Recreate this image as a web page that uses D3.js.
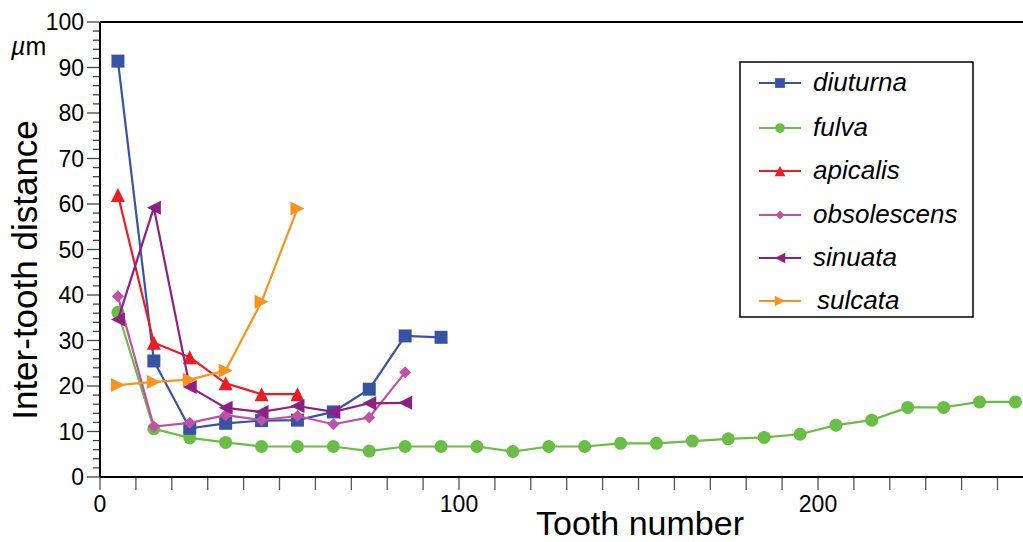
<!DOCTYPE html>
<html>
<head>
	<title>Inter-tooth distance</title>
	<script type="text/javascript" src="https://cdn.jsdelivr.net/npm/d3@7/dist/d3.min.js"></script>
	<style type="text/css">
		body { margin: 0; background: #fff; }
		svg { display: block; font-family: "Liberation Sans", Arial, Helvetica, sans-serif; }
	</style>
</head>
<body>
	<svg width=1023 height=542 class="chart"></svg>
	<script type="text/javascript">

		// tooth bins (centre of each 10-tooth group)
		toothBins = [5, 15, 25, 35, 45, 55, 65, 75, 85, 95, 105, 115, 125, 135, 145, 155, 165, 175, 185, 195, 205, 215, 225, 235, 245, 255]

		diuturna = [91.4, 25.5, 10.7, 11.8, 12.4, 12.5, 14.3, 19.3, 31.0, 30.7]
		fulva = [36.2, 10.6, 8.6, 7.6, 6.7, 6.7, 6.7, 5.7, 6.7, 6.7, 6.7, 5.6, 6.7, 6.7, 7.4, 7.4, 7.9, 8.4, 8.7, 9.4, 11.4, 12.5, 15.3, 15.3, 16.5, 16.5]
		apicalis = [62.0, 29.5, 26.3, 20.6, 18.2, 18.2]
		obsolescens = [39.7, 11.1, 11.9, 13.6, 12.5, 13.4, 11.6, 13.1, 23.0]
		sinuata = [34.6, 59.2, 19.8, 15.2, 14.3, 15.6, 14.3, 16.2, 16.3]
		sulcata = [20.2, 20.9, 21.4, 23.4, 38.5, 59.0]

		seriesNames = ['diuturna', 'fulva', 'apicalis', 'obsolescens', 'sinuata', 'sulcata']
		seriesColors = ['#3953a4', '#6abd45', '#ed1c24', '#c052a5', '#8e1f83', '#f7941d']
		seriesShapes = ['square', 'circle', 'up', 'diamond', 'left', 'right']
		seriesValues = [diuturna, fulva, apicalis, obsolescens, sinuata, sulcata]
		drawOrder = [1, 0, 2, 3, 4, 5]

		xTickLabels = [0, 100, 200]
		yTickLabels = [0, 10, 20, 30, 40, 50, 60, 70, 80, 90, 100]

		margin = {'top': 22, 'left': 100, 'bottom': 65}
		svg = d3.select('.chart')

		x = d3.scaleLinear().domain([0, 260]).range([margin.left, margin.left + 260 * 3.59])
		y = d3.scaleLinear().domain([0, 100]).range([477, margin.top])

		function markerPath(shape, s) {
			var h = s / 2
			if (shape == 'square') return 'M' + (-h) + ',' + (-h) + 'h' + s + 'v' + s + 'h' + (-s) + 'Z'
			if (shape == 'circle') return 'M' + h + ',0A' + h + ',' + h + ' 0 1,1 ' + (-h) + ',0A' + h + ',' + h + ' 0 1,1 ' + h + ',0Z'
			if (shape == 'up') return 'M0,' + (-h) + 'L' + h + ',' + h + 'L' + (-h) + ',' + h + 'Z'
			if (shape == 'left') return 'M' + (-h) + ',0L' + h + ',' + (-h) + 'L' + h + ',' + h + 'Z'
			if (shape == 'right') return 'M' + h + ',0L' + (-h) + ',' + (-h) + 'L' + (-h) + ',' + h + 'Z'
			if (shape == 'diamond') return 'M0,' + (-h) + 'L' + h + ',0L0,' + h + 'L' + (-h) + ',0Z'
		}
		markerSize = {'square': 13, 'circle': 13, 'up': 14, 'left': 14, 'right': 14, 'diamond': 12}

		// axes frame
		yMinor = d3.range(0, 101, 2)
		svg.append('g')
			.selectAll('line')
			.data(yMinor)
			.enter()
			.append('line')
			.attr('x1', function(d) { return d % 10 == 0 ? 87 : 93 })
			.attr('x2', margin.left)
			.attr('y1', function(d) { return y(d) })
			.attr('y2', function(d) { return y(d) })
			.attr('stroke', '#444')
			.attr('stroke-width', 1.3)

		xMinor = d3.range(0, 261, 10)
		svg.append('g')
			.selectAll('line')
			.data(xMinor)
			.enter()
			.append('line')
			.attr('x1', function(d) { return x(d) })
			.attr('x2', function(d) { return x(d) })
			.attr('y1', y(0))
			.attr('y2', y(0) + 13)
			.attr('stroke', '#555')
			.attr('stroke-width', 1.3)

		svg.append('line')
			.attr('x1', margin.left).attr('x2', margin.left)
			.attr('y1', y(100)).attr('y2', y(0))
			.attr('stroke', '#000').attr('stroke-width', 2)
		svg.append('line')
			.attr('x1', margin.left).attr('x2', 1023)
			.attr('y1', y(0)).attr('y2', y(0))
			.attr('stroke', '#000').attr('stroke-width', 2.2)
		svg.append('line')
			.attr('x1', margin.left).attr('x2', 1023)
			.attr('y1', y(100)).attr('y2', y(100))
			.attr('stroke', '#000').attr('stroke-width', 2)

		svg.append('g')
			.selectAll('text')
			.data(yTickLabels)
			.enter()
			.append('text')
			.attr('x', 84)
			.attr('y', function(d) { return y(d) + 8 })
			.attr('text-anchor', 'end')
			.attr('font-size', 23)
			.text(function(d) { return d })

		svg.append('g')
			.selectAll('text')
			.data(xTickLabels)
			.enter()
			.append('text')
			.attr('x', function(d) { return x(d) })
			.attr('y', 512)
			.attr('text-anchor', 'middle')
			.attr('font-size', 23)
			.text(function(d) { return d })

		unit = svg.append('text')
			.attr('x', 11)
			.attr('y', 55)
			.attr('font-size', 25)
		unit.append('tspan').attr('font-style', 'italic').text('\u00b5')
		unit.append('tspan').text('m')

		svg.append('text')
			.attr('transform', 'translate(37,270) rotate(-90)')
			.attr('text-anchor', 'middle')
			.attr('font-size', 35)
			.text('Inter-tooth distance')

		svg.append('text')
			.attr('x', 640)
			.attr('y', 535)
			.attr('text-anchor', 'middle')
			.attr('font-size', 34)
			.text('Tooth number')

		// series
		line = d3.line()
			.x(function(d) { return x(d[0]) })
			.y(function(d) { return y(d[1]) })

		plot = svg.append('g').attr('class', 'g-main')
		drawOrder.forEach(function(i) {
			var pts = seriesValues[i].map(function(v, k) { return [toothBins[k], v] })
			var g = plot.append('g')
			g.append('path')
				.attr('d', line(pts))
				.attr('fill', 'none')
				.attr('stroke', seriesColors[i])
				.attr('stroke-width', 2.2)
			g.selectAll('path.mk')
				.data(pts)
				.enter()
				.append('path')
				.attr('class', 'mk')
				.attr('transform', function(d) { return 'translate(' + x(d[0]) + ',' + y(d[1]) + ')' })
				.attr('d', markerPath(seriesShapes[i], markerSize[seriesShapes[i]]))
				.attr('fill', seriesColors[i])
		})

		// legend
		legend = svg.append('g').attr('transform', 'translate(740,62)')
		legend.append('rect')
			.attr('width', 233)
			.attr('height', 255)
			.attr('fill', '#fff')
			.attr('stroke', '#000')
			.attr('stroke-width', 1.5)
		rowY = [21, 66, 109, 153, 196, 239]
		items = legend.selectAll('g.item')
			.data(seriesNames)
			.enter()
			.append('g')
			.attr('class', 'item')
			.attr('transform', function(d, i) { return 'translate(0,' + rowY[i] + ')' })
		items.append('line')
			.attr('x1', 19).attr('x2', 61)
			.attr('stroke', function(d, i) { return seriesColors[i] })
			.attr('stroke-width', 1.8)
		items.append('path')
			.attr('transform', 'translate(40,0)')
			.attr('d', function(d, i) { return markerPath(seriesShapes[i], markerSize[seriesShapes[i]] * 0.75) })
			.attr('fill', function(d, i) { return seriesColors[i] })
		items.append('text')
			.attr('x', function(d) { return d == 'sulcata' ? 77 : 73 })
			.attr('y', 8)
			.attr('font-size', 26)
			.attr('font-style', 'italic')
			.text(function(d) { return d })

	</script>
</body>
</html>
